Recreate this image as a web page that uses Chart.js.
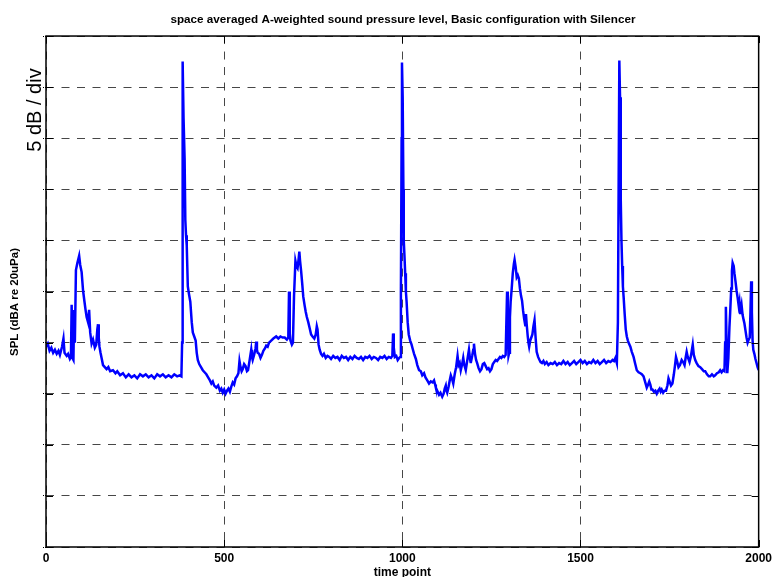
<!DOCTYPE html>
<html>
<head>
<meta charset="utf-8">
<script src="https://cdn.jsdelivr.net/npm/chart.js@4.4.0/dist/chart.umd.min.js"></script>
<style>
  html, body { margin: 0; padding: 0; background: #fff; }
  #wrap { width: 776px; height: 577px; }
</style>
</head>
<body>
<div id="wrap"><canvas id="spl-chart" width="776" height="577"></canvas></div>
<script>
// time point index and level (dB above the bottom of the axes, 5 dB per division)
var timePoints = [
  0, 5, 10, 15, 20, 25, 30, 35, 39, 45, 49, 52, 58, 62, 67, 70, 72, 74, 77, 79,
  81, 84, 88, 93, 96, 100, 104, 108, 111, 114, 118, 121, 124, 128, 132, 137, 141, 144, 146, 148,
  150, 153, 156, 160, 165, 170, 175, 180, 188, 195, 200, 208, 216, 224, 232, 240, 248, 256, 264, 272,
  280, 288, 296, 304, 312, 320, 328, 336, 344, 352, 360, 368, 375, 380, 382, 383, 384, 386, 389, 391,
  393, 395, 398, 401, 405, 409, 412, 416, 420, 423, 426, 430, 435, 440, 445, 450, 455, 460, 464, 468,
  472, 478, 483, 488, 492, 496, 500, 504, 508, 512, 516, 520, 524, 528, 532, 536, 540, 543, 546, 549,
  552, 556, 560, 564, 567, 572, 576, 578, 580, 584, 588, 590, 592, 594, 598, 602, 606, 610, 614, 618,
  622, 626, 632, 638, 646, 652, 658, 664, 670, 676, 680, 682, 684, 686, 690, 693, 696, 700, 703, 706,
  709, 711, 713, 716, 719, 722, 726, 729, 732, 736, 740, 744, 748, 753, 757, 760, 762, 765, 768, 772,
  776, 780, 785, 790, 795, 800, 806, 812, 818, 824, 830, 836, 842, 848, 854, 860, 866, 872, 878, 884,
  890, 896, 902, 908, 914, 920, 926, 932, 938, 944, 950, 956, 962, 968, 972, 974, 976, 979, 983, 987,
  991, 994, 996, 998, 999, 1001, 1003, 1004, 1006, 1008, 1010, 1012, 1015, 1018, 1022, 1026, 1029, 1033, 1038, 1042,
  1047, 1052, 1056, 1061, 1065, 1070, 1075, 1080, 1085, 1089, 1092, 1094, 1098, 1103, 1107, 1112, 1116, 1119, 1122, 1124,
  1126, 1130, 1133, 1136, 1140, 1143, 1147, 1151, 1155, 1158, 1161, 1164, 1168, 1171, 1174, 1178, 1182, 1187, 1190, 1192,
  1196, 1199, 1201, 1204, 1207, 1210, 1214, 1218, 1222, 1226, 1230, 1234, 1238, 1242, 1246, 1250, 1254, 1258, 1262, 1266,
  1270, 1274, 1278, 1282, 1286, 1290, 1292, 1294, 1296, 1298, 1300, 1302, 1304, 1307, 1310, 1313, 1315, 1318, 1321, 1324,
  1327, 1330, 1333, 1336, 1339, 1342, 1345, 1347, 1349, 1352, 1354, 1356, 1359, 1362, 1365, 1368, 1371, 1374, 1377, 1381,
  1385, 1388, 1392, 1396, 1400, 1405, 1410, 1416, 1422, 1428, 1434, 1440, 1446, 1452, 1458, 1464, 1470, 1476, 1482, 1488,
  1494, 1500, 1506, 1512, 1518, 1524, 1530, 1536, 1542, 1548, 1554, 1560, 1566, 1572, 1578, 1584, 1590, 1594, 1598, 1602,
  1605, 1607, 1609, 1611, 1613, 1615, 1617, 1619, 1621, 1624, 1627, 1630, 1633, 1636, 1640, 1644, 1649, 1653, 1658, 1663,
  1668, 1672, 1677, 1681, 1686, 1690, 1693, 1696, 1699, 1702, 1706, 1710, 1714, 1718, 1722, 1725, 1728, 1732, 1736, 1740,
  1744, 1747, 1750, 1754, 1758, 1762, 1765, 1768, 1771, 1775, 1779, 1784, 1788, 1792, 1795, 1798, 1801, 1806, 1810, 1815,
  1818, 1822, 1826, 1831, 1836, 1841, 1846, 1850, 1855, 1860, 1864, 1869, 1874, 1878, 1883, 1888, 1892, 1896, 1900, 1904,
  1906, 1908, 1910, 1912, 1915, 1918, 1920, 1923, 1925, 1927, 1930, 1932, 1935, 1938, 1941, 1944, 1946, 1948, 1950, 1952,
  1955, 1958, 1960, 1963, 1966, 1969, 1972, 1975, 1977, 1979, 1981, 1983, 1985, 1988, 1991, 1994, 1997, 2000
];
var splLevels = [
  19.6, 19.9, 19.2, 19.5, 19.0, 19.3, 18.9, 19.2, 18.8, 19.6, 20.4, 19.0, 18.7, 18.9, 18.4, 18.6, 23.7, 18.5, 18.3, 23.2,
  20.0, 27.1, 27.8, 28.5, 27.6, 26.9, 25.1, 24.0, 23.2, 22.5, 22.0, 23.2, 21.0, 19.9, 20.3, 19.5, 19.8, 21.3, 21.8, 20.5,
  19.6, 19.0, 18.5, 17.8, 17.6, 17.4, 17.6, 17.2, 17.3, 17.0, 17.2, 16.8, 17.0, 16.6, 16.9, 16.6, 16.8, 16.5, 16.9, 16.7,
  16.9, 16.6, 16.8, 16.5, 16.9, 16.7, 16.9, 16.6, 16.8, 16.6, 16.9, 16.7, 16.8, 16.7, 20.0, 40.0, 47.5, 42.0, 38.0, 32.0,
  30.5, 29.5, 25.5, 24.8, 24.0, 22.0, 21.0, 20.6, 20.2, 19.0, 18.3, 17.9, 17.6, 17.3, 17.1, 16.9, 16.6, 16.3, 16.0, 16.2,
  15.8, 15.6, 15.8, 15.3, 15.5, 15.1, 15.4, 15.0, 15.3, 15.5, 15.2, 15.7, 16.1, 15.9, 16.5, 16.7, 17.0, 18.2, 17.6, 17.2,
  17.4, 17.9, 17.7, 17.2, 17.3, 18.4, 19.3, 18.6, 18.3, 18.8, 19.4, 20.1, 19.3, 19.0, 18.9, 18.5, 18.8, 19.2, 19.4, 19.7,
  19.6, 20.0, 20.2, 20.4, 20.6, 20.4, 20.6, 20.5, 20.5, 20.3, 20.5, 25.0, 20.9, 20.2, 19.8, 20.0, 24.5, 28.0, 27.5, 27.3,
  28.2, 28.9, 28.0, 27.0, 25.8, 24.5, 23.6, 23.0, 22.5, 22.0, 21.4, 20.8, 20.6, 20.4, 20.8, 21.6, 21.3, 19.8, 19.3, 18.9,
  18.7, 18.9, 18.5, 18.7, 18.6, 18.4, 18.7, 18.5, 18.6, 18.3, 18.7, 18.5, 18.6, 18.3, 18.6, 18.4, 18.7, 18.5, 18.4, 18.6,
  18.3, 18.6, 18.5, 18.7, 18.4, 18.6, 18.5, 18.3, 18.6, 18.5, 18.7, 18.4, 18.6, 18.5, 18.7, 20.9, 19.5, 18.6, 18.7, 18.3,
  18.5, 18.6, 25.0, 40.0, 47.4, 44.0, 35.0, 30.0, 28.5, 26.8, 25.0, 24.0, 22.0, 20.8, 20.2, 19.8, 19.4, 18.9, 18.4, 17.8,
  17.3, 17.2, 16.8, 17.0, 16.6, 16.3, 16.0, 16.2, 16.1, 16.3, 15.9, 15.6, 15.3, 14.9, 15.1, 14.7, 15.0, 15.5, 15.8, 15.3,
  15.1, 15.7, 16.3, 16.8, 16.4, 16.0, 16.9, 17.6, 18.7, 17.8, 18.0, 17.3, 17.9, 18.5, 17.8, 17.3, 18.2, 19.3, 18.4, 18.0,
  18.7, 19.3, 19.9, 18.9, 18.3, 18.0, 17.5, 17.2, 17.4, 17.9, 18.0, 17.7, 17.4, 17.5, 17.2, 17.4, 17.9, 18.1, 18.3, 18.2,
  18.4, 18.6, 18.5, 18.7, 18.6, 18.8, 22.0, 25.0, 21.0, 18.7, 19.0, 22.5, 24.0, 25.3, 26.8, 27.7, 28.1, 27.4, 26.4, 26.6,
  26.3, 25.3, 24.6, 24.1, 23.1, 22.3, 21.7, 22.8, 21.8, 20.6, 20.0, 19.6, 20.2, 20.5, 20.8, 21.6, 22.2, 20.5, 19.1, 18.6,
  18.3, 18.1, 18.0, 18.2, 17.9, 18.1, 17.8, 18.0, 17.9, 18.1, 17.8, 18.0, 17.9, 18.2, 17.9, 18.1, 17.8, 18.0, 18.2, 17.9,
  18.1, 18.3, 18.0, 18.2, 17.9, 18.1, 18.0, 18.3, 18.0, 18.2, 17.9, 18.1, 18.3, 18.0, 18.2, 18.1, 18.3, 18.2, 18.5, 18.0,
  22.0, 35.0, 47.6, 44.0, 34.0, 30.0, 27.5, 25.5, 24.5, 22.8, 21.3, 20.6, 20.2, 19.9, 19.6, 19.1, 18.6, 18.0, 17.3, 17.1,
  17.0, 16.9, 16.7, 16.2, 15.6, 15.9, 16.2, 15.9, 15.4, 15.4, 15.2, 15.3, 15.0, 15.3, 15.5, 15.2, 15.4, 15.1, 15.3, 15.3,
  15.8, 16.5, 16.2, 15.8, 16.0, 16.9, 17.7, 18.6, 18.2, 17.6, 17.8, 18.3, 18.1, 17.8, 18.5, 19.1, 18.6, 18.1, 18.7, 19.8,
  18.8, 18.3, 18.0, 17.7, 17.6, 17.4, 17.2, 17.2, 16.9, 16.7, 16.7, 16.9, 16.7, 16.8, 17.0, 17.1, 17.3, 17.1, 17.3, 17.2,
  20.0, 23.5, 20.0, 17.0, 18.5, 21.5, 22.9, 25.3, 27.0, 27.8, 27.5, 26.8, 26.0, 25.1, 24.4, 23.6, 24.0, 22.9, 23.3, 23.7,
  22.7, 22.2, 21.9, 21.2, 20.5, 20.0, 20.3, 20.5, 23.0, 26.0, 23.0, 20.2, 19.3, 18.9, 18.4, 18.0, 17.6, 17.3
];
var xTickValues = [0, 500, 1000, 1500, 2000];
var yDivisions = [0, 5, 10, 15, 20, 25, 30, 35, 40, 45, 50];

var points = timePoints.map(function (t, i) { return { x: t, y: splLevels[i] }; });

var frameAndLabels = {
  id: 'frameAndLabels',
  afterDraw: function (chart) {
    var c = chart.ctx;
    var a = chart.chartArea;
    var xs = chart.scales.x;
    var ys = chart.scales.y;
    var tick = 7;
    c.save();
    // axes box
    c.strokeStyle = '#000';
    c.lineWidth = 1.5;
    c.strokeRect(a.left, a.top, a.right - a.left, a.bottom - a.top);
    // inward ticks on all four sides
    c.lineWidth = 1;
    c.beginPath();
    xTickValues.forEach(function (v) {
      var px = Math.round(xs.getPixelForValue(v)) + 0.5;
      c.moveTo(px, a.bottom); c.lineTo(px, a.bottom - tick);
      c.moveTo(px, a.top); c.lineTo(px, a.top + tick);
    });
    yDivisions.forEach(function (v) {
      var py = Math.round(ys.getPixelForValue(v)) + 0.5;
      c.moveTo(a.left, py); c.lineTo(a.left + tick, py);
      c.moveTo(a.right, py); c.lineTo(a.right - tick, py);
    });
    c.stroke();
    c.fillStyle = '#000';
    c.textAlign = 'center';
    c.textBaseline = 'middle';
    // x axis label
    c.font = 'bold 12px "Liberation Sans", Arial, sans-serif';
    c.fillText('time point', (a.left + a.right) / 2, 573);
    // y axis label
    c.save();
    c.translate(15, 302);
    c.rotate(-Math.PI / 2);
    c.font = 'bold 11.5px "Liberation Sans", Arial, sans-serif';
    c.fillText('SPL (dBA re 20uPa)', 0, 0);
    c.restore();
    // scale note
    c.save();
    c.translate(35, 110);
    c.rotate(-Math.PI / 2);
    c.font = '20px "Liberation Sans", Arial, sans-serif';
    c.fillText('5 dB / div', 0, 0);
    c.restore();
    c.restore();
  }
};

var ctx = document.getElementById('spl-chart').getContext('2d');
var chart = new Chart(ctx, {
  type: 'line',
  data: {
    datasets: [{
      label: 'SPL',
      data: points,
      borderColor: '#0000ff',
      borderWidth: 2.5,
      pointRadius: 0,
      tension: 0,
      fill: false
    }]
  },
  options: {
    responsive: false,
    animation: false,
    devicePixelRatio: 1,
    layout: { padding: { left: 46, right: 16, top: 0, bottom: 0 } },
    plugins: {
      legend: { display: false },
      tooltip: { enabled: false },
      title: {
        display: true,
        text: 'space averaged A-weighted sound pressure level, Basic configuration with Silencer',
        color: '#000',
        font: { family: '"Liberation Sans", Arial, sans-serif', size: 11.7, weight: 'bold' },
        padding: { top: 13, bottom: 9 }
      }
    },
    scales: {
      x: {
        type: 'linear',
        min: 0,
        max: 2000,
        afterBuildTicks: function (scale) {
          scale.ticks = xTickValues.map(function (v) { return { value: v }; });
        },
        afterFit: function (scale) { scale.height = 30; },
        grid: {
          color: 'rgba(0,0,0,0.72)',
          drawTicks: false
        },
        border: { display: false, dash: [8, 7.5] },
        ticks: {
          color: '#000',
          padding: 4,
          maxRotation: 0,
          font: { family: '"Liberation Sans", Arial, sans-serif', size: 12, weight: 'bold' },
          callback: function (value) { return String(value); }
        }
      },
      y: {
        type: 'linear',
        min: 0,
        max: 50,
        afterBuildTicks: function (scale) {
          scale.ticks = yDivisions.map(function (v) { return { value: v }; });
        },
        afterFit: function (scale) { scale.width = 0; },
        grid: {
          color: 'rgba(0,0,0,0.72)',
          tickLength: 3,
          tickColor: '#000',
          tickBorderDash: [1, 1]
        },
        border: { display: false, dash: [8, 7.5] },
        ticks: { display: false }
      }
    }
  },
  plugins: [frameAndLabels]
});
</script>
</body>
</html>
